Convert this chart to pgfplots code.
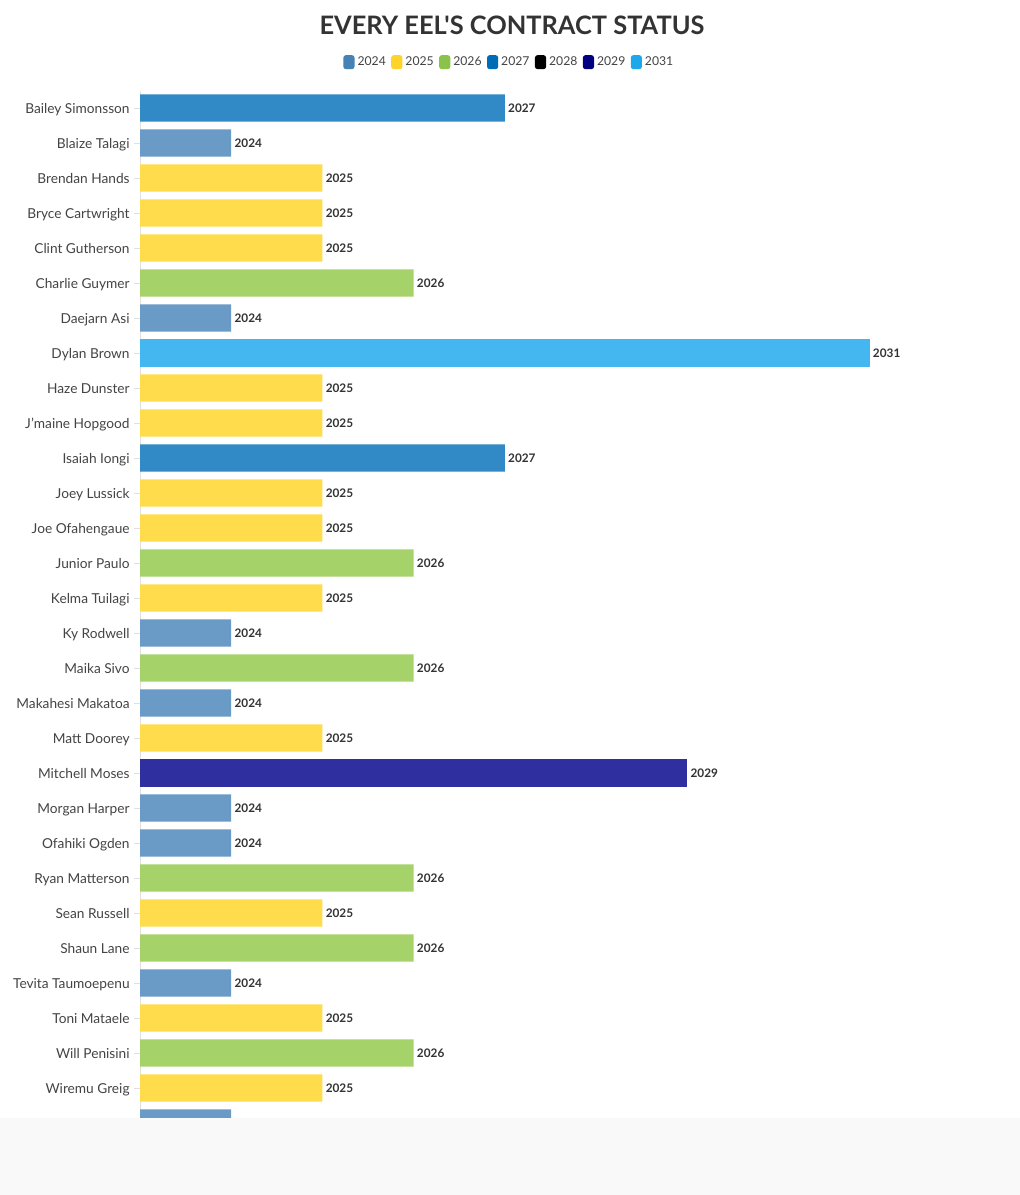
\documentclass[border=0pt]{standalone}
\usepackage{pgfplots}
\pgfplotsset{compat=1.18}
\usepackage{fontspec}
\setmainfont{Lato}
\newfontfamily\titlefont{Lato}[Ligatures=TeXOff]
\definecolor{l2024}{HTML}{4682B4}
\definecolor{l2025}{HTML}{FFD42A}
\definecolor{l2026}{HTML}{8BC34A}
\definecolor{l2027}{HTML}{006BB7}
\definecolor{l2028}{HTML}{000000}
\definecolor{l2029}{HTML}{000080}
\definecolor{l2031}{HTML}{1DA8EC}
\definecolor{b2024}{HTML}{6A9AC6}
\definecolor{b2025}{HTML}{FFDC4C}
\definecolor{b2026}{HTML}{A6D26A}
\definecolor{b2027}{HTML}{3189C5}
\definecolor{b2029}{HTML}{2F2FA0}
\definecolor{b2031}{HTML}{45B7F0}
\definecolor{txt}{HTML}{444444}
\definecolor{foot}{HTML}{F9F9F9}
\begin{document}
\begin{tikzpicture}
\useasboundingbox (0pt,0pt) rectangle (510pt,597.5pt);
\fill[white] (0pt,0pt) rectangle (510pt,597.5pt);
\node[font=\titlefont\bfseries\fontsize{12.7}{14}\selectfont, text=black!80] at (256pt,585pt) {EVERY EEL'S CONTRACT STATUS};
\begin{axis}[
  at={(70pt,27.25pt)}, anchor=south west,
  scale only axis, width=430pt, height=525pt,
  xmin=0, xmax=9.43, ymin=-0.5, ymax=29.5, y dir=reverse,
  xbar, bar width=0.78, bar shift=0pt,
  axis x line=none,
  axis y line*=left,
  y axis line style={draw=black!12, line width=0.5pt},
  ytick={0,...,29},
  yticklabels={Bailey Simonsson,Blaize Talagi,Brendan Hands,Bryce Cartwright,Clint Gutherson,Charlie Guymer,Daejarn Asi,Dylan Brown,Haze Dunster,J’maine Hopgood,Isaiah Iongi,Joey Lussick,Joe Ofahengaue,Junior Paulo,Kelma Tuilagi,Ky Rodwell,Maika Sivo,Makahesi Makatoa,Matt Doorey,Mitchell Moses,Morgan Harper,Ofahiki Ogden,Ryan Matterson,Sean Russell,Shaun Lane,Tevita Taumoepenu,Toni Mataele,Will Penisini,Wiremu Greig,{}},
  major tick length=3pt, tick align=outside,
  major tick style={draw=black!12, line width=0.4pt},
  yticklabel style={font=\fontsize{6.85}{8}\selectfont, text=txt, inner xsep=2pt, text height=5pt, text depth=0pt},
  nodes near coords style={font=\bfseries\fontsize{5.9}{7}\selectfont, text=black!80, anchor=west, inner xsep=1.5pt},
  clip=false,
  legend columns=7,
  legend style={at={(0.43,1.027)}, anchor=center, draw=none, fill=none,
    font=\fontsize{6.1}{7}\selectfont, text=txt,
    nodes={inner xsep=1.5pt},
    /tikz/every even column/.append style={column sep=1.2pt},
    inner sep=0pt},
  legend image code/.code={\fill[#1, draw=none, rounded corners=1.3pt] (0pt,-3.5pt) rectangle (5.6pt,3.5pt);},
]
\addlegendimage{fill=l2024, draw=none}\addlegendentry{2024}
\addlegendimage{fill=l2025, draw=none}\addlegendentry{2025}
\addlegendimage{fill=l2026, draw=none}\addlegendentry{2026}
\addlegendimage{fill=l2027, draw=none}\addlegendentry{2027}
\addlegendimage{fill=l2028, draw=none}\addlegendentry{2028}
\addlegendimage{fill=l2029, draw=none}\addlegendentry{2029}
\addlegendimage{fill=l2031, draw=none}\addlegendentry{2031}
\addplot[forget plot, fill=b2024, draw=none, nodes near coords={2024}] coordinates {(1,1) (1,6) (1,15) (1,17) (1,20) (1,21) (1,25) (1,29)};
\addplot[forget plot, fill=b2025, draw=none, nodes near coords={2025}] coordinates {(2,2) (2,3) (2,4) (2,8) (2,9) (2,11) (2,12) (2,14) (2,18) (2,23) (2,26) (2,28)};
\addplot[forget plot, fill=b2026, draw=none, nodes near coords={2026}] coordinates {(3,5) (3,13) (3,16) (3,22) (3,24) (3,27)};
\addplot[forget plot, fill=b2027, draw=none, nodes near coords={2027}] coordinates {(4,0) (4,10)};
\addplot[forget plot, fill=b2029, draw=none, nodes near coords={2029}] coordinates {(6,19)};
\addplot[forget plot, fill=b2031, draw=none, nodes near coords={2031}] coordinates {(8,7)};
\end{axis}
\fill[foot] (0pt,0pt) rectangle (510pt,38.5pt);
\end{tikzpicture}
\end{document}
